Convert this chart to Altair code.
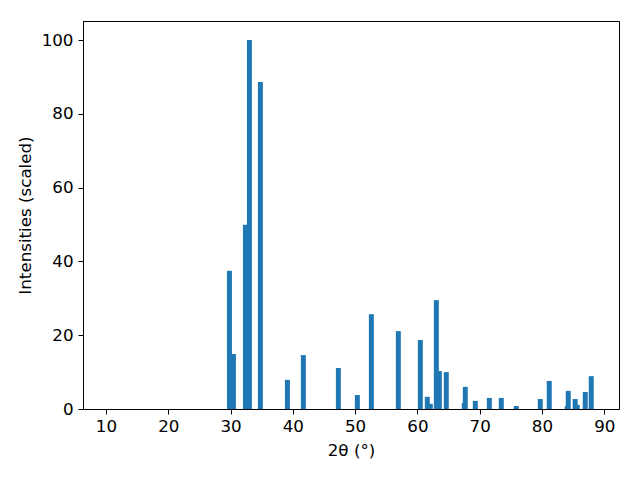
import altair as alt
import pandas as pd

two_theta = [29.82, 30.46, 32.39, 33.03, 34.79, 39.13, 41.69, 47.31, 50.36, 52.61,
             56.94, 60.47, 61.59, 62.07, 63.04, 63.52, 64.64, 67.53, 67.69, 69.30,
             71.55, 73.47, 75.88, 79.73, 81.17, 84.06, 84.22, 85.33, 85.66, 86.95, 87.91]
intensity = [37.5, 14.9, 49.9, 100.0, 88.6, 7.9, 14.6, 11.1, 3.8, 25.7,
             21.1, 18.7, 3.3, 1.4, 29.5, 10.3, 10.0, 1.6, 6.0, 2.2,
             3.0, 3.0, 0.8, 2.7, 7.6, 0.8, 4.9, 2.7, 1.1, 4.6, 8.9]
bar_width = 0.8

df = pd.DataFrame({"two_theta": two_theta, "intensity": intensity})

font = "DejaVu Sans"
fs = 16.7

chart = alt.Chart(df).transform_calculate(
    lo=f"datum.two_theta - {bar_width/2}",
    hi=f"datum.two_theta + {bar_width/2}",
).mark_bar(color="#1f77b4", orient="vertical").encode(
    x=alt.X("lo:Q",
            scale=alt.Scale(domain=[6.31, 92.37], nice=False, zero=False, padding=0),
            axis=alt.Axis(title="2θ (°)", values=[10, 20, 30, 40, 50, 60, 70, 80, 90],
                          grid=False, tickSize=5, tickColor="black", domainColor="black",
                          labelFontSize=fs, titleFontSize=fs, labelFont=font, titleFont=font,
                          labelColor="black", titleColor="black", titleFontWeight="normal",
                          labelPadding=4, titlePadding=8, labelFlush=False)),
    x2="hi:Q",
    y=alt.Y("intensity:Q",
            scale=alt.Scale(domain=[0, 105.15], nice=False, padding=0),
            axis=alt.Axis(title="Intensities (scaled)", values=[0, 20, 40, 60, 80, 100],
                          grid=False, tickSize=5, tickColor="black", domainColor="black",
                          labelFontSize=fs, titleFontSize=fs, labelFont=font, titleFont=font,
                          labelColor="black", titleColor="black", titleFontWeight="normal",
                          labelPadding=5, titlePadding=7, labelFlush=False)),
    y2=alt.datum(0),
).properties(
    width=536,
    height=388,
    autosize=alt.AutoSizeParams(type="none"),
    padding={"left": 75, "top": 13, "right": 13, "bottom": 60},
).configure(
    background="white"
).configure_view(
    stroke="black", strokeWidth=1
)

chart.save("out.html", embed_options={"renderer": "svg", "actions": False})
